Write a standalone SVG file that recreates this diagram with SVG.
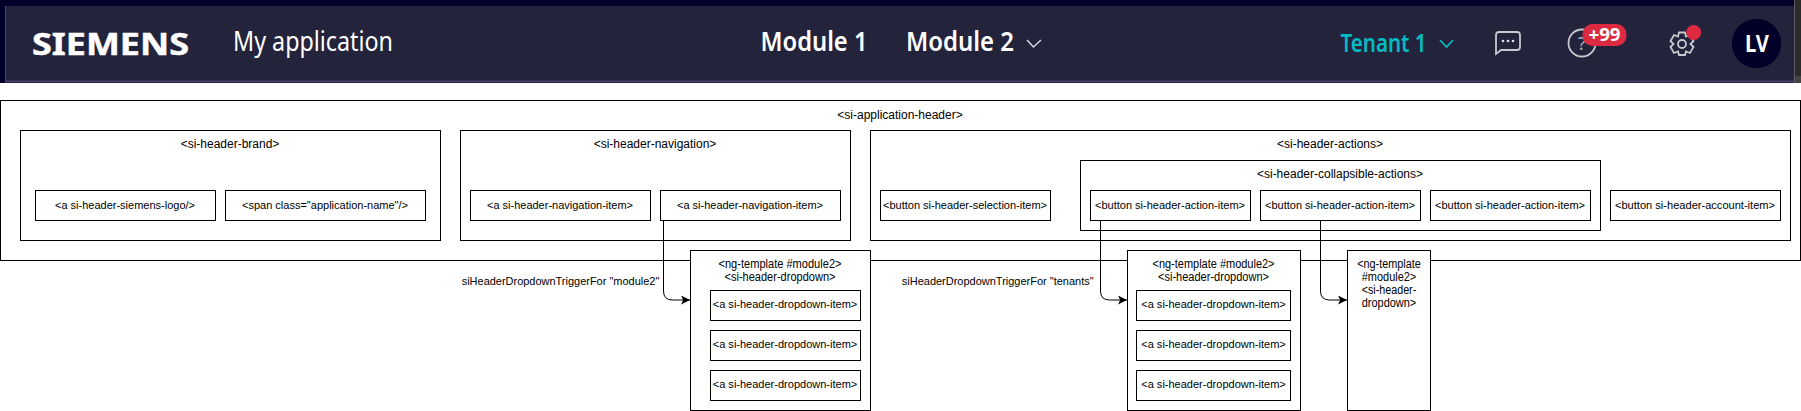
<svg xmlns="http://www.w3.org/2000/svg" width="1801" height="411" viewBox="0 0 1801 411">
<style>
text{font-family:"Liberation Sans",Arial,sans-serif;font-size:12px;fill:#000;text-anchor:middle}
.s{font-size:11.600px}
.b{fill:#fff;stroke:#000;stroke-width:1}
.c{fill:none;stroke:#000;stroke-width:1;marker-end:url(#arrow)}
.h{font-family:"Noto Sans","Open Sans",sans-serif;fill:#fff;text-anchor:start}
.m{font-size:27px;font-weight:600}
.i{fill:none;stroke:#c8c8d0;stroke-width:1.8}
</style>
<defs>
<marker id="arrow" markerUnits="userSpaceOnUse" markerWidth="11" markerHeight="10" refX="9" refY="4.500" orient="auto"><path d="M0 0L9 4.500L0 9L2.200 4.500Z" fill="#000"/></marker>
</defs>
<rect width="1801" height="411" fill="#fff"/>
<g id="app-bar">
<rect x="0" y="0" width="1794" height="83" fill="#000028"/>
<rect x="1794" y="0" width="1" height="83" fill="#5a5a60"/>
<rect x="1795" y="0" width="6" height="76" fill="#2b2b2b"/>
<rect x="1795" y="76" width="6" height="7" fill="#444448"/>
<rect x="5" y="6" width="1.500" height="77" fill="#4a4a6e"/>
<rect x="6.500" y="6" width="1787.500" height="77" fill="#23233c"/>
<rect x="6.500" y="80.500" width="1787.500" height="1.500" fill="#45456e"/>
<text class="h" x="32" y="55" textLength="157" lengthAdjust="spacingAndGlyphs" stroke="#fff" stroke-width=".5" style="font-size:31px;font-weight:700">SIEMENS</text>
<text class="h" x="233" y="51" textLength="160" lengthAdjust="spacingAndGlyphs" style="font-size:27px">My application</text>
<text class="h m" x="760.500" y="51" textLength="107" lengthAdjust="spacingAndGlyphs">Module 1</text>
<text class="h m" x="906" y="51" textLength="108" lengthAdjust="spacingAndGlyphs">Module 2</text>
<path d="M1027 40L1033.500 47L1041 40" fill="none" stroke="#d8d8e0" stroke-width="1.500"/>
<text class="h m" x="1340.500" y="52" textLength="86" lengthAdjust="spacingAndGlyphs" style="fill:#00bdc4;font-size:25px">Tenant 1</text>
<path d="M1440 40L1446.500 47L1453 40" fill="none" stroke="#00bdc4" stroke-width="1.800"/>
<path class="i" d="M1496 54V35Q1496 32 1499 32H1517Q1520 32 1520 35V47Q1520 50 1517 50H1501Z"/>
<circle cx="1503" cy="41" r="1.300" fill="#e0e0e6"/><circle cx="1508" cy="41" r="1.300" fill="#e0e0e6"/><circle cx="1513" cy="41" r="1.300" fill="#e0e0e6"/>
<circle class="i" cx="1582" cy="43" r="13.500"/>
<text class="h" x="1578" y="50" style="font-size:18px;fill:#b0b0b8">?</text>
<rect x="1582.500" y="24" width="44" height="22" rx="10" fill="#dc2a40"/>
<text class="h" x="1588.500" y="41" textLength="32" lengthAdjust="spacingAndGlyphs" style="font-size:18px;font-weight:700">+99</text>
<path class="i" d="M1679 32.500H1685L1686 36.500L1690 35L1693.500 41L1690.500 44L1693.500 47L1690 53L1686 51.500L1685 55H1679L1678 51.500L1674 53L1670.500 47L1673.500 44L1670.500 41L1674 35L1678 36.500Z"/>
<circle class="i" cx="1682" cy="44" r="4"/>
<circle cx="1693.700" cy="32.500" r="7.500" fill="#dc2a40"/>
<circle cx="1756.500" cy="43.500" r="24.700" fill="#000028"/>
<text class="h" x="1745" y="52" textLength="24" lengthAdjust="spacingAndGlyphs" style="font-size:23px;font-weight:700">LV</text>
</g>
<g id="si-application-header"><rect class="b" x="0.500" y="100.500" width="1800" height="160"/><text x="900" y="119">&lt;si-application-header&gt;</text></g>
<g id="si-header-brand"><rect class="b" x="20.500" y="130.500" width="420" height="110"/><text x="230" y="148">&lt;si-header-brand&gt;</text></g>
<g id="siemens-logo"><rect class="b" x="35.500" y="190.500" width="180" height="30"/><text class="s" x="125" y="208.500" textLength="140" lengthAdjust="spacingAndGlyphs">&lt;a si-header-siemens-logo/&gt;</text></g>
<g id="application-name"><rect class="b" x="225.500" y="190.500" width="200" height="30"/><text class="s" x="325" y="208.500" textLength="166" lengthAdjust="spacingAndGlyphs">&lt;span class="application-name"/&gt;</text></g>
<g id="si-header-navigation"><rect class="b" x="460.500" y="130.500" width="390" height="110"/><text x="655" y="148">&lt;si-header-navigation&gt;</text></g>
<g id="nav-item-1"><rect class="b" x="470.500" y="190.500" width="180" height="30"/><text class="s" x="560" y="208.500" textLength="146" lengthAdjust="spacingAndGlyphs">&lt;a si-header-navigation-item&gt;</text></g>
<g id="nav-item-2"><rect class="b" x="660.500" y="190.500" width="180" height="30"/><text class="s" x="750" y="208.500" textLength="146" lengthAdjust="spacingAndGlyphs">&lt;a si-header-navigation-item&gt;</text></g>
<g id="si-header-actions"><rect class="b" x="870.500" y="130.500" width="920" height="110"/><text x="1330" y="148">&lt;si-header-actions&gt;</text></g>
<g id="selection-item"><rect class="b" x="880.500" y="190.500" width="170" height="30"/><text class="s" x="965" y="208.500" textLength="164" lengthAdjust="spacingAndGlyphs">&lt;button si-header-selection-item&gt;</text></g>
<g id="si-header-collapsible-actions"><rect class="b" x="1080.500" y="160.500" width="520" height="70"/><text x="1340" y="178">&lt;si-header-collapsible-actions&gt;</text></g>
<g id="action-item-1"><rect class="b" x="1090.500" y="190.500" width="160" height="30"/><text class="s" x="1170" y="208.500" textLength="150" lengthAdjust="spacingAndGlyphs">&lt;button si-header-action-item&gt;</text></g>
<g id="action-item-2"><rect class="b" x="1260.500" y="190.500" width="160" height="30"/><text class="s" x="1340" y="208.500" textLength="150" lengthAdjust="spacingAndGlyphs">&lt;button si-header-action-item&gt;</text></g>
<g id="action-item-3"><rect class="b" x="1430.500" y="190.500" width="160" height="30"/><text class="s" x="1510" y="208.500" textLength="150" lengthAdjust="spacingAndGlyphs">&lt;button si-header-action-item&gt;</text></g>
<g id="account-item"><rect class="b" x="1610.500" y="190.500" width="170" height="30"/><text class="s" x="1695" y="208.500" textLength="160" lengthAdjust="spacingAndGlyphs">&lt;button si-header-account-item&gt;</text></g>
<g id="dropdown-module2"><rect class="b" x="690.500" y="250.500" width="180" height="160"/><text x="780" y="268" textLength="123" lengthAdjust="spacingAndGlyphs">&lt;ng-template #module2&gt;</text><text x="780" y="281" textLength="111" lengthAdjust="spacingAndGlyphs">&lt;si-header-dropdown&gt;</text></g>
<g id="dropdown-module2-item-1"><rect class="b" x="710.500" y="290.500" width="150" height="30"/><text class="s" x="785" y="308" textLength="144.500" lengthAdjust="spacingAndGlyphs">&lt;a si-header-dropdown-item&gt;</text></g>
<g id="dropdown-module2-item-2"><rect class="b" x="710.500" y="330.500" width="150" height="30"/><text class="s" x="785" y="348" textLength="144.500" lengthAdjust="spacingAndGlyphs">&lt;a si-header-dropdown-item&gt;</text></g>
<g id="dropdown-module2-item-3"><rect class="b" x="710.500" y="370.500" width="150" height="30"/><text class="s" x="785" y="388" textLength="144.500" lengthAdjust="spacingAndGlyphs">&lt;a si-header-dropdown-item&gt;</text></g>
<g id="dropdown-tenants"><rect class="b" x="1127.500" y="250.500" width="173" height="160"/><text x="1213.500" y="268" textLength="122" lengthAdjust="spacingAndGlyphs">&lt;ng-template #module2&gt;</text><text x="1213.500" y="281" textLength="111" lengthAdjust="spacingAndGlyphs">&lt;si-header-dropdown&gt;</text></g>
<g id="dropdown-tenants-item-1"><rect class="b" x="1136.500" y="290.500" width="154" height="30"/><text class="s" x="1213.500" y="308" textLength="144.500" lengthAdjust="spacingAndGlyphs">&lt;a si-header-dropdown-item&gt;</text></g>
<g id="dropdown-tenants-item-2"><rect class="b" x="1136.500" y="330.500" width="154" height="30"/><text class="s" x="1213.500" y="348" textLength="144.500" lengthAdjust="spacingAndGlyphs">&lt;a si-header-dropdown-item&gt;</text></g>
<g id="dropdown-tenants-item-3"><rect class="b" x="1136.500" y="370.500" width="154" height="30"/><text class="s" x="1213.500" y="388" textLength="144.500" lengthAdjust="spacingAndGlyphs">&lt;a si-header-dropdown-item&gt;</text></g>
<g id="dropdown-third"><rect class="b" x="1347.500" y="250.500" width="83" height="160"/><text x="1389" y="268" textLength="63.500" lengthAdjust="spacingAndGlyphs">&lt;ng-template</text><text x="1389" y="281" textLength="54.500" lengthAdjust="spacingAndGlyphs">#module2&gt;</text><text x="1389" y="294" textLength="54.500" lengthAdjust="spacingAndGlyphs">&lt;si-header-</text><text x="1389" y="307" textLength="54.500" lengthAdjust="spacingAndGlyphs">dropdown&gt;</text></g>
<g id="connectors">
<path class="c" d="M663.500 220.500V291Q663.500 300 672.500 300H690"/>
<path class="c" d="M1100.500 220.500V291Q1100.500 300 1109.500 300H1127"/>
<path class="c" d="M1320.500 220.500V291Q1320.500 300 1329.500 300H1347"/>
</g>
<g id="connector-labels">
<text class="s" x="560.500" y="285" textLength="197.600" lengthAdjust="spacingAndGlyphs">siHeaderDropdownTriggerFor "module2"</text>
<text class="s" x="997.700" y="285" textLength="191.800" lengthAdjust="spacingAndGlyphs">siHeaderDropdownTriggerFor "tenants"</text>
</g>
</svg>
